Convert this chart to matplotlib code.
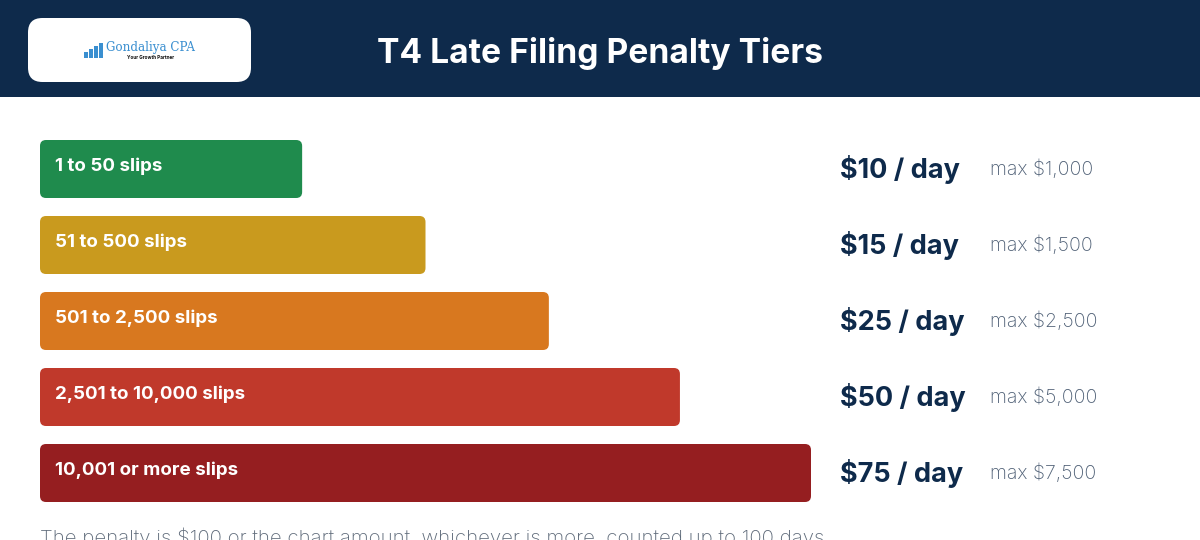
import matplotlib
matplotlib.use("Agg")
import matplotlib.pyplot as plt
from matplotlib.patches import FancyBboxPatch, Rectangle
import matplotlib.transforms as mtransforms

# ---- data ----
tiers = ["1 to 50 slips", "51 to 500 slips", "501 to 2,500 slips",
         "2,501 to 10,000 slips", "10,001 or more slips"]
bar_scale = [34, 50, 66, 83, 100]
rates = ["$10 / day", "$15 / day", "$25 / day", "$50 / day", "$75 / day"]
maxes = ["max $1,000", "max $1,500", "max $2,500", "max $5,000", "max $7,500"]
colors = ["#1F8B4D", "#C99A1E", "#D8781F", "#C0392B", "#951E20"]
title = "T4 Late Filing Penalty Tiers"
footnote = "The penalty is $100 or the chart amount, whichever is more, counted up to 100 days."

FONT = ["Inter", "DejaVu Sans"]
NAVY = "#0E2A4B"
W, H = 1200, 540
fig = plt.figure(figsize=(W / 100, H / 100), dpi=100)
fig.patch.set_facecolor("white")

def fx(px):
    return px / W

def fy(py):
    return 1 - py / H

# header band
fig.patches.append(Rectangle((0, fy(97)), 1, 97 / H, transform=fig.transFigure,
                             facecolor=NAVY, edgecolor="none", zorder=0))
# logo card
fig.patches.append(FancyBboxPatch((fx(28), fy(82)), fx(223), 64 / H,
                                  boxstyle="round,pad=0,rounding_size=0.012",
                                  mutation_aspect=W / H,
                                  transform=fig.transFigure, facecolor="white",
                                  edgecolor="none", zorder=1))
# tiny logo icon
for i, hgt in enumerate([6, 9, 12, 15]):
    fig.patches.append(Rectangle((fx(84 + i * 5), fy(58)), fx(4), hgt / H,
                                 transform=fig.transFigure, facecolor="#3A8FD0",
                                 edgecolor="none", zorder=2))
fig.text(fx(106), fy(48), "Gondaliya CPA", family=["DejaVu Serif"], fontsize=8.6,
         color="#3A8FD0", va="center", ha="left", zorder=3)
fig.text(fx(127), fy(57.5), "Your Growth Partner", family=FONT, fontsize=3.4,
         color="#111111", va="center", ha="left", fontweight="bold", zorder=3)

fig.text(fx(600), fy(53), title, family=FONT, fontsize=24.2, fontweight="bold",
         color="white", ha="center", va="center")

# bars axes
ax = fig.add_axes([fx(40), fy(511), fx(771), 380 / H])
ax.set_xlim(0, 100)
ax.set_ylim(len(tiers) - 0.5, -0.5)
ax.axis("off")

bh = 58 / 76
bars = ax.barh(range(len(tiers)), bar_scale, height=bh, color=colors)
px_per_x = 771 / 100
px_per_y = 76
for b, c in zip(bars, colors):
    b.set_visible(False)
    r = 6 / px_per_x
    p = FancyBboxPatch((b.get_x(), b.get_y()), b.get_width(), b.get_height(),
                       boxstyle=f"round,pad=0,rounding_size={r}",
                       mutation_aspect=px_per_x / px_per_y,
                       facecolor=c, edgecolor="none")
    ax.add_patch(p)

for i, t in enumerate(tiers):
    ax.text(15 / px_per_x, i - 0.03, t, family=FONT, fontsize=13.5, fontweight="bold",
            color="white", va="center", ha="left")

tr = mtransforms.blended_transform_factory(fig.transFigure, ax.transData)
for i, (r_, m_) in enumerate(zip(rates, maxes)):
    ax.text(fx(840), i, r_, transform=tr, family=FONT, fontsize=19.5,
            fontweight="bold", color=NAVY, va="center", ha="left", clip_on=False)
    ax.text(fx(990), i, m_, transform=tr, family=FONT, fontsize=14,
            fontweight="light", color="#4E5F75", va="center", ha="left", clip_on=False)

fig.text(fx(40), fy(538), footnote, family=FONT, fontsize=14.7, fontweight="light",
         color="#5F6B7A", ha="left", va="center")

fig.savefig("out.png", dpi=100)
